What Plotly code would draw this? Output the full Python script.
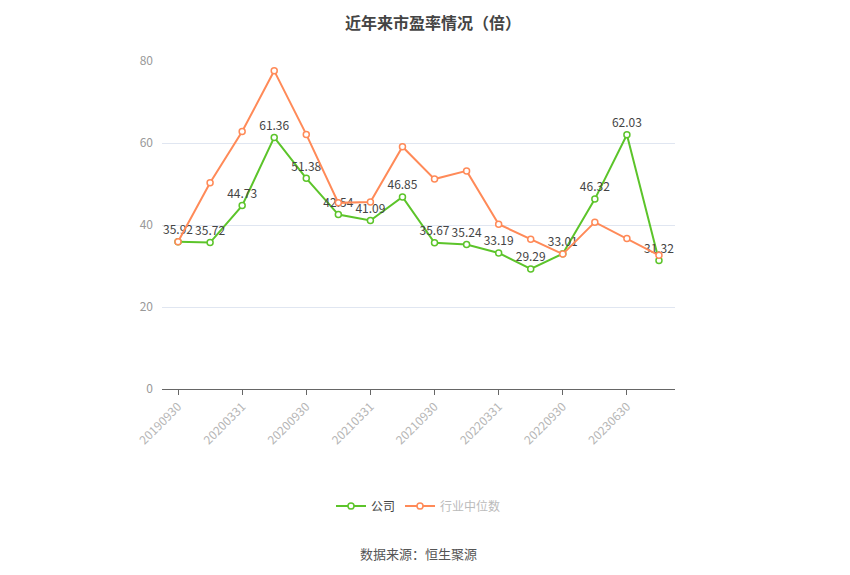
import plotly.graph_objects as go

dates = ["20190930", "20191231", "20200331", "20200630", "20200930", "20201231",
         "20210331", "20210630", "20210930", "20211231", "20220331", "20220630",
         "20220930", "20230331", "20230630", "20230930"]
company = [35.92, 35.72, 44.73, 61.36, 51.38, 42.54, 41.09, 46.85, 35.67, 35.24,
           33.19, 29.29, 33.01, 46.32, 62.03, 31.32]
industry = [35.9, 50.3, 62.8, 77.6, 62.1, 45.4, 45.6, 59.1, 51.2, 53.2,
            40.2, 36.5, 32.9, 40.7, 36.7, 32.6]
tick_labels = dates[::2]
y_ticks = [0, 20, 40, 60, 80]

green = "#5cc42a"
orange = "#ff8a58"
font = "Noto Sans CJK SC"

fig = go.Figure()
fig.add_trace(go.Scatter(
    x=dates, y=company, name="公司", mode="lines+markers+text",
    line=dict(color=green, width=2),
    marker=dict(symbol="circle", size=6, color="white", line=dict(color=green, width=1.5)),
    text=[f"{v:.2f}" for v in company], textposition="top center",
    textfont=dict(family=font, size=12, color="#444"),
    cliponaxis=False,
))
fig.add_trace(go.Scatter(
    x=dates, y=industry, name="<span style='color:#bbbbbb'>行业中位数</span>", mode="lines+markers",
    line=dict(color=orange, width=2),
    marker=dict(symbol="circle", size=6, color="white", line=dict(color=orange, width=1.5)),
    cliponaxis=False,
))

fig.update_layout(
    width=850, height=575,
    margin=dict(l=154, r=183, t=53, b=194),
    paper_bgcolor="white", plot_bgcolor="white",
    font=dict(family=font, size=12, color="#999"),
    title=dict(text="<b>近年来市盈率情况（倍）</b>", x=0.5, xanchor="center", y=0.974, yanchor="middle",
               font=dict(family=font, size=16, color="#444")),
    showlegend=True,
    legend=dict(orientation="h", x=0.5, xanchor="center", y=-0.357, yanchor="middle",
                font=dict(family=font, size=12, color="#444"), itemwidth=30),
    xaxis=dict(type="category", categoryorder="array", categoryarray=dates,
               range=[-0.5, len(dates) - 0.5],
               tickmode="array", tickvals=tick_labels, ticktext=tick_labels,
               tickangle=-45, tickfont=dict(family=font, size=12, color="#b5b5b5"),
               showline=True, linecolor="#666", linewidth=1,
               ticks="outside", ticklen=5, tickcolor="#666",
               showgrid=False, zeroline=False),
    yaxis=dict(range=[0, 80], tickmode="array", tickvals=y_ticks,
               tickfont=dict(family=font, size=12, color="#999"),
               showgrid=True, gridcolor="#e0e6f1", gridwidth=1,
               zeroline=False, showline=False, ticks="", ticklabelstandoff=8),
)

fig.add_annotation(text="数据来源：恒生聚源", xref="paper", yref="paper",
                   x=0.5, y=-0.5, xanchor="center", yanchor="middle", showarrow=False,
                   font=dict(family=font, size=13, color="#555"))

fig.write_html("out.html")
